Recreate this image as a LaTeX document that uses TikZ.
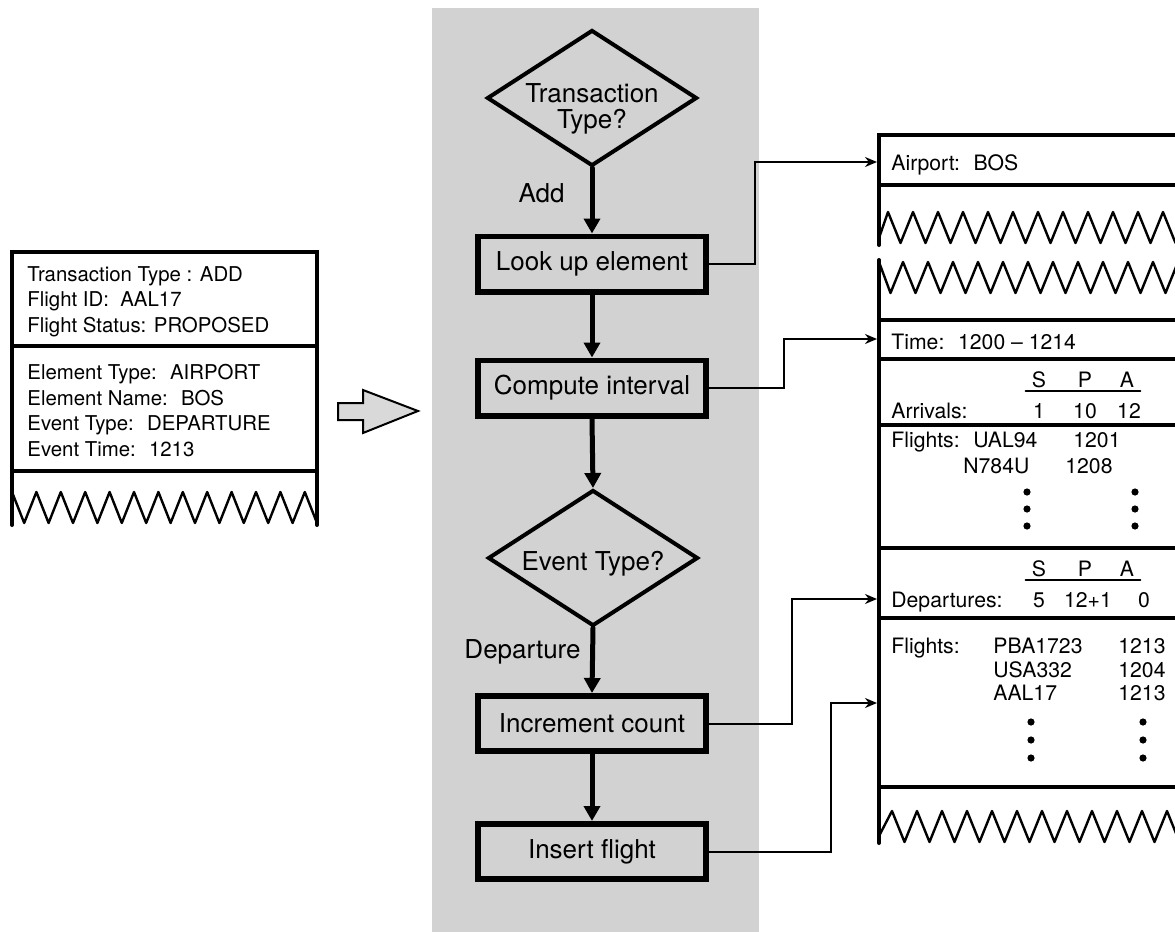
\documentclass[tikz,border=0pt]{standalone}
\usepackage{fontspec}
\setmainfont{TeX Gyre Heros}
\usetikzlibrary{shapes.geometric,arrows.meta}

\begin{document}
\begin{tikzpicture}[x=0.5pt, y=-0.5pt, line cap=round,
  flowbox/.style={draw, line width=2.8pt, minimum width=114.2pt, minimum height=27.7pt,
    inner sep=0pt, font=\fontsize{13}{11.5}\selectfont},
  decide/.style={diamond, draw, line width=2pt, aspect=1.5, minimum width=105pt, minimum height=68pt,
    inner sep=0pt, font=\fontsize{13}{11.5}\selectfont},
  flow/.style={line width=2.5pt, -{Triangle[length=7.5pt,width=8pt]}},
  link/.style={line width=1pt, -{Stealth[length=6pt,width=5pt]}},
  lbl/.style={inner sep=0pt, font=\fontsize{13}{13}\selectfont},
  rec/.style={anchor=base west, inner sep=0pt, font=\fontsize{10.2}{12}\selectfont},
  rrec/.style={rec, font=\fontsize{10.6}{12}\selectfont},
  num/.style={anchor=base, inner sep=0pt, font=\fontsize{10.6}{12}\selectfont},
  recline/.style={line width=2pt},
  zig/.style={line width=1.2pt, line join=round}]
  \clip (0,0) rectangle (1175,932);
  \fill[gray!35] (432,8) rectangle (759,932);

  \node[decide] (ttq) at (592,98) {\raisebox{-15pt}[0pt][0pt]{\shortstack{Transaction\\Type?}}};
  \node[flowbox] (lookup) at (592,264) {Look up element};
  \node[flowbox] (compute) at (592,388) {Compute interval};
  \node[decide] (evq) at (593,558) {\raisebox{-6pt}[0pt][0pt]{Event Type?}};
  \node[flowbox] (incr) at (592,723.5) {Increment count};
  \node[flowbox] (insert) at (592,851.5) {Insert flight};
  \node[lbl, anchor=base east] (addlbl) at (565,202) {Add};
  \node[lbl, anchor=base east] (deplbl) at (581,658) {Departure};

  \draw[flow] (ttq.south) -- (lookup.north);
  \draw[flow] (lookup.south) -- (compute.north);
  \draw[flow] (compute.south) -- (evq.north);
  \draw[flow] (evq.south) -- (incr.north);
  \draw[flow] (incr.south) -- (insert.north);

  \draw[recline] (12,525) -- (12,252) -- (317,252) -- (317,525);
  \draw[recline] (12,346) -- (317,346);
  \draw[recline] (12,471) -- (317,471);
  \draw[zig] (12,492) \foreach \k in {0,...,11} { -- ({24.2+24.4*\k},523) -- ({36.4+24.4*\k},492) } -- (317,523);
  \node[rec] (ttype) at (27,281.7) {Transaction Type : ADD};
  \node[rec] (fid) at (27,306.9) {Flight ID:~ AAL17};
  \node[rec] (fstat) at (27,332.5) {Flight Status: PROPOSED};
  \node[rec] (etype) at (27,379) {Element Type:~ AIRPORT};
  \node[rec] (ename) at (27,405) {Element Name:~ BOS};
  \node[rec] (evtype) at (27,430.5) {Event Type:~ DEPARTURE};
  \node[rec] (evtime) at (27,456) {Event Time:~ 1213};

  \draw[line width=1pt, fill=gray!30] (338,403) -- (363,403) -- (363,390) -- (418,411)
    -- (363,433) -- (363,420) -- (338,420) -- cycle;

  \draw[recline] (1175,135) -- (879,135) -- (879,245);
  \draw[recline] (879,260) -- (879,843);
  \foreach \y in {185,320,359,425,548,618,787} \draw[recline] (879,\y) -- (1175,\y);
  \draw[zig] (879,238) \foreach \k in {0,...,11} { -- ({888+25*\k},212) -- ({900.5+25*\k},243) };
  \draw[zig] (879,262) \foreach \k in {0,...,11} { -- ({890.5+25*\k},293) -- ({903+25*\k},262) };
  \draw[zig] (879,836) \foreach \k in {0,...,11} { -- ({892+25*\k},811) -- ({904.5+25*\k},842) };

  \node[rrec] (apt) at (891,170) {Airport:~ BOS};
  \node[rrec] (tint) at (891,349) {Time:~ 1200 -- 1214};
  \node[num] (as) at (1039,387) {S};
  \node[num] (ap) at (1085,387) {P};
  \node[num] (aa) at (1127,387) {A};
  \draw[line width=0.8pt] ([xshift=-3pt,yshift=-2pt]as.base west) -- ([xshift=3pt,yshift=-2pt]aa.base east);
  \node[rrec] (arr) at (891,418) {Arrivals:};
  \node[num] (an1) at (1039,418) {1};
  \node[num] (an2) at (1085,418) {10};
  \node[num] (an3) at (1129,418) {12};
  \node[rrec] (afl) at (891,447) {Flights:};
  \node[rrec] (afa) at (973,447) {UAL94};
  \node[rrec] (afat) at (1073,447) {1201};
  \node[rrec] (afb) at (963,473) {N784U};
  \node[rrec] (afbt) at (1065,473) {1208};
  \foreach \x in {1027,1135} \foreach \y in {492,509,526} \fill (\x,\y) circle (1.8pt);

  \node[num] (ds) at (1039,576) {S};
  \node[num] (dp) at (1085,576) {P};
  \node[num] (da) at (1127,576) {A};
  \draw[line width=0.8pt] ([xshift=-3pt,yshift=-2pt]ds.base west) -- ([xshift=3pt,yshift=-2pt]da.base east);
  \node[rrec] (dep) at (891,607) {Departures:};
  \node[num] (dn1) at (1039,607) {5};
  \node[num] (dn2) at (1088,607) {12+1};
  \node[num] (dn3) at (1144,607) {0};
  \node[rrec] (dfl) at (891,653) {Flights:};
  \node[rrec] (dfa) at (993,653) {PBA1723};
  \node[rrec] (dfat) at (1118,653) {1213};
  \node[rrec] (dfb) at (993,677) {USA332};
  \node[rrec] (dfbt) at (1118,677) {1204};
  \node[rrec] (dfc) at (993,700) {AAL17};
  \node[rrec] (dfct) at (1118,700) {1213};
  \foreach \x in {1031,1143} \foreach \y in {722,740,758} \fill (\x,\y) circle (1.8pt);

  \coordinate (aptin) at (877,162);
  \coordinate (timein) at (877,339);
  \coordinate (depin) at (877,599);
  \coordinate (flin) at (877,703);
  \draw[link] (lookup.east) -- ++(46,0) |- (aptin);
  \draw[link] (compute.east) -- ++(75,0) |- (timein);
  \draw[link] (incr.east) -- ++(83,0) |- (depin);
  \draw[link] (insert.east) -- ++(122,0) |- (flin);
\end{tikzpicture}
\end{document}
